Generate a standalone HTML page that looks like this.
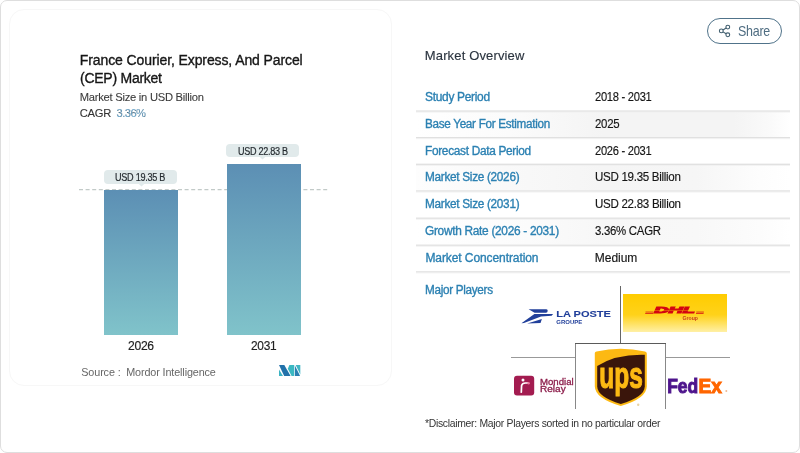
<!DOCTYPE html>
<html><head><meta charset="utf-8">
<style>
*{margin:0;padding:0;box-sizing:border-box}
html,body{width:800px;height:453px;overflow:hidden;background:#fff;font-family:"Liberation Sans",sans-serif;-webkit-font-smoothing:antialiased}
#wrap{position:absolute;left:0;top:0;width:800px;height:453px;will-change:transform}
.abs{position:absolute;white-space:nowrap}
#outer{position:absolute;left:0;top:0;width:800px;height:453px;border:1px solid #dedede;border-radius:7px;background:#fff}
#card{position:absolute;left:9px;top:9px;width:383px;height:377px;border:1px solid #f7f7f7;border-radius:15px;background:#fff}
.bar{position:absolute;background:linear-gradient(#5c8fb4,#80c3ca)}
.tip{position:absolute;background:#e1eaeb;border-radius:4px}
.row{position:absolute;left:416px;width:374px;height:1px;background:#e0e0e0;box-shadow:0 1px 0 #f3f3f3}
</style></head><body>
<div id="wrap">
<div id="outer"></div>
<div id="card"></div>
<div class="abs" style="left:416px;top:112px;width:374px;height:25px;background:linear-gradient(90deg,#fff 0%,#fbfbfb 25%,#f4f4f4 50%,#f4f4f4 85%,#fafafa 95%,#fff 100%)"></div>
<div class="abs" style="left:416px;top:165px;width:374px;height:25px;background:linear-gradient(90deg,#fdfdfd 0%,#f8f8f8 30%,#f5f5f5 50%,#f6f6f6 75%,#fdfdfd 92%,#fff 100%)"></div>
<div class="abs" style="left:416px;top:219px;width:374px;height:25px;background:linear-gradient(90deg,#fff 0%,#fbfbfb 30%,#f7f7f7 50%,#f8f8f8 75%,#fcfcfc 92%,#fff 100%)"></div>
<svg class="abs" style="left:0;top:0" width="800" height="453" viewBox="0 0 800 453"><line x1="79" y1="189.6" x2="328" y2="189.6" stroke="#c2cac8" stroke-width="1.2" stroke-dasharray="4 2.6"/></svg>
<div class="tip" style="left:104px;top:170px;width:73px;height:14px"></div>
<div class="tip" style="left:226px;top:144px;width:73px;height:13px"></div>
<div class="bar" style="left:104px;top:190px;width:74px;height:145px"></div>
<div class="bar" style="left:227px;top:164px;width:74px;height:171px"></div>
<div class="abs" style="left:707px;top:18px;width:75px;height:26px;border:1px solid #50738a;border-radius:13px"></div>
<svg class="abs" style="left:0;top:0" width="800" height="453"><rect x="416" y="110.45" width="374" height="1.3" fill="#dfdfdf"/><rect x="416" y="111.75" width="374" height="0.8" fill="#f0f0f0"/><rect x="416" y="137.05" width="374" height="1.3" fill="#dfdfdf"/><rect x="416" y="138.35" width="374" height="0.8" fill="#f0f0f0"/><rect x="416" y="163.65" width="374" height="1.3" fill="#dfdfdf"/><rect x="416" y="164.95" width="374" height="0.8" fill="#f0f0f0"/><rect x="416" y="190.35" width="374" height="1.3" fill="#dfdfdf"/><rect x="416" y="191.65" width="374" height="0.8" fill="#f0f0f0"/><rect x="416" y="217.55" width="374" height="1.3" fill="#dfdfdf"/><rect x="416" y="218.85" width="374" height="0.8" fill="#f0f0f0"/><rect x="416" y="244.55" width="374" height="1.3" fill="#dfdfdf"/><rect x="416" y="245.85" width="374" height="0.8" fill="#f0f0f0"/><rect x="416" y="271.25" width="374" height="1.3" fill="#dfdfdf"/><rect x="416" y="272.55" width="374" height="0.8" fill="#f0f0f0"/></svg>
<div id="t1" class="abs" style="left:79.80px;top:53.15px;font-size:14px;line-height:14px;color:#161616;letter-spacing:-0.103px;-webkit-text-stroke:0.35px #161616;">France Courier, Express, And Parcel</div>
<div id="t2" class="abs" style="left:80.00px;top:70.75px;font-size:14px;line-height:14px;color:#161616;letter-spacing:-0.255px;-webkit-text-stroke:0.35px #161616;">(CEP) Market</div>
<div id="sub" class="abs" style="left:79.70px;top:92.12px;font-size:11.2px;line-height:11.2px;color:#3c3c3c;letter-spacing:-0.252px;-webkit-text-stroke:0.1px #3c3c3c;">Market Size in USD Billion</div>
<div id="cagr" class="abs" style="left:79.70px;top:107.72px;font-size:11.2px;line-height:11.2px;color:#333;letter-spacing:-0.244px;-webkit-text-stroke:0.1px #333;">CAGR<span style="display:inline-block;width:5.5px"></span><span style="color:#6aa6cc;letter-spacing:-0.55px">3.36%</span></div>
<div id="tip1" class="abs" style="left:115.40px;top:173.13px;font-size:10px;line-height:10px;color:#262c31;letter-spacing:-0.300px;-webkit-text-stroke:0.2px #262c31;transform:scaleX(0.9091);transform-origin:0 0;">USD 19.35 B</div>
<div id="tip2" class="abs" style="left:238.40px;top:146.63px;font-size:10px;line-height:10px;color:#262c31;letter-spacing:-0.300px;-webkit-text-stroke:0.2px #262c31;transform:scaleX(0.9055);transform-origin:0 0;">USD 22.83 B</div>
<div id="y1" class="abs" style="left:128.00px;top:339.67px;font-size:12.2px;line-height:12.2px;color:#222;letter-spacing:-0.300px;-webkit-text-stroke:0.15px #222;transform:scaleX(0.9962);transform-origin:0 0;">2026</div>
<div id="y2" class="abs" style="left:251.00px;top:339.67px;font-size:12.2px;line-height:12.2px;color:#222;letter-spacing:-0.300px;-webkit-text-stroke:0.15px #222;transform:scaleX(0.977);transform-origin:0 0;">2031</div>
<div id="src" class="abs" style="left:81.30px;top:366.86px;font-size:10.8px;line-height:10.8px;color:#666;letter-spacing:-0.125px;">Source :&nbsp; Mordor Intelligence</div>
<div id="share" class="abs" style="left:738.20px;top:24.30px;font-size:14.3px;line-height:14.3px;color:#4f6d82;letter-spacing:-0.300px;transform:scaleX(0.8715);transform-origin:0 0;">Share</div>
<div id="mo" class="abs" style="left:424.80px;top:49.20px;font-size:13px;line-height:13px;color:#2c3540;letter-spacing:0.143px;-webkit-text-stroke:0.15px #2c3540;">Market Overview</div>
<div id="mp" class="abs" style="left:425.00px;top:284.04px;font-size:12px;line-height:12px;color:#2b80b2;letter-spacing:-0.300px;-webkit-text-stroke:0.35px #2b80b2;transform:scaleX(0.9755);transform-origin:0 0;">Major Players</div>
<div id="disc" class="abs" style="left:424.80px;top:418.13px;font-size:10.6px;line-height:10.6px;color:#333;letter-spacing:-0.300px;transform:scaleX(0.98);transform-origin:0 0;">*Disclaimer: Major Players sorted in no particular order</div>
<div id="l0" class="abs" style="left:425.40px;top:90.94px;font-size:12px;line-height:12px;color:#2b80b2;letter-spacing:-0.300px;-webkit-text-stroke:0.35px #2b80b2;transform:scaleX(0.9954);transform-origin:0 0;">Study Period</div>
<div id="v0" class="abs" style="left:594.80px;top:90.94px;font-size:12px;line-height:12px;color:#151515;letter-spacing:-0.300px;-webkit-text-stroke:0.15px #151515;transform:scaleX(0.93);transform-origin:0 0;">2018 - 2031</div>
<div id="l1" class="abs" style="left:425.40px;top:117.74px;font-size:12px;line-height:12px;color:#2b80b2;letter-spacing:-0.300px;-webkit-text-stroke:0.35px #2b80b2;transform:scaleX(0.9742);transform-origin:0 0;">Base Year For Estimation</div>
<div id="v1" class="abs" style="left:594.80px;top:117.74px;font-size:12px;line-height:12px;color:#151515;letter-spacing:-0.300px;-webkit-text-stroke:0.15px #151515;transform:scaleX(0.9522);transform-origin:0 0;">2025</div>
<div id="l2" class="abs" style="left:425.40px;top:144.54px;font-size:12px;line-height:12px;color:#2b80b2;letter-spacing:-0.300px;-webkit-text-stroke:0.35px #2b80b2;transform:scaleX(0.986);transform-origin:0 0;">Forecast Data Period</div>
<div id="v2" class="abs" style="left:594.80px;top:144.54px;font-size:12px;line-height:12px;color:#151515;letter-spacing:-0.300px;-webkit-text-stroke:0.15px #151515;transform:scaleX(0.9283);transform-origin:0 0;">2026 - 2031</div>
<div id="l3" class="abs" style="left:425.40px;top:171.34px;font-size:12px;line-height:12px;color:#2b80b2;letter-spacing:-0.300px;-webkit-text-stroke:0.35px #2b80b2;transform:scaleX(0.9823);transform-origin:0 0;">Market Size (2026)</div>
<div id="v3" class="abs" style="left:594.80px;top:171.34px;font-size:12px;line-height:12px;color:#151515;letter-spacing:-0.300px;-webkit-text-stroke:0.15px #151515;transform:scaleX(0.9626);transform-origin:0 0;">USD 19.35 Billion</div>
<div id="l4" class="abs" style="left:425.40px;top:198.14px;font-size:12px;line-height:12px;color:#2b80b2;letter-spacing:-0.300px;-webkit-text-stroke:0.35px #2b80b2;transform:scaleX(0.9823);transform-origin:0 0;">Market Size (2031)</div>
<div id="v4" class="abs" style="left:594.80px;top:198.14px;font-size:12px;line-height:12px;color:#151515;letter-spacing:-0.300px;-webkit-text-stroke:0.15px #151515;transform:scaleX(0.9637);transform-origin:0 0;">USD 22.83 Billion</div>
<div id="l5" class="abs" style="left:425.40px;top:224.94px;font-size:12px;line-height:12px;color:#2b80b2;letter-spacing:-0.300px;-webkit-text-stroke:0.35px #2b80b2;transform:scaleX(0.9896);transform-origin:0 0;">Growth Rate (2026 - 2031)</div>
<div id="v5" class="abs" style="left:594.80px;top:224.94px;font-size:12px;line-height:12px;color:#151515;letter-spacing:-0.300px;-webkit-text-stroke:0.15px #151515;transform:scaleX(0.9517);transform-origin:0 0;">3.36% CAGR</div>
<div id="l6" class="abs" style="left:425.40px;top:251.74px;font-size:12px;line-height:12px;color:#2b80b2;letter-spacing:-0.084px;-webkit-text-stroke:0.35px #2b80b2;">Market Concentration</div>
<div id="v6" class="abs" style="left:594.80px;top:251.74px;font-size:12px;line-height:12px;color:#151515;letter-spacing:-0.040px;-webkit-text-stroke:0.15px #151515;">Medium</div>
<svg class="abs" style="left:0;top:0" width="800" height="453" viewBox="0 0 800 453">
 <polygon points="138.5,183.8 144.5,183.8 141.5,186.6" fill="#e1eaeb"/>
 <polygon points="259.5,156.8 265.5,156.8 262.5,159.4" fill="#e1eaeb"/>
 <!-- share icon -->
 <g fill="none" stroke="#3f5d6e" stroke-width="1.1">
  <circle cx="727.8" cy="27.1" r="1.9"/>
  <circle cx="721.3" cy="30.9" r="1.9"/>
  <circle cx="727.8" cy="34.8" r="1.9"/>
  <path d="M723 29.9 L726.1 28.1 M723 31.9 L726.1 33.8"/>
 </g>
 <!-- MI logo -->
 <g>
  <polygon points="279,369.5 279,376 283,376" fill="#3bb3c3"/>
  <polygon points="279,365 284.3,365 290.6,376 284.2,376" fill="#2272aa"/>
  <polygon points="289.4,365 294.2,365 294.2,376 291.6,376 287.8,368.8" fill="#3bb8c2"/>
  <polygon points="294.9,365.6 300.1,376 294.9,376" fill="#2a7fb2"/>
  <polygon points="295.7,365 300.3,365 300.3,374.4" fill="#41b6c4"/>
 </g>
 <!-- grid lines -->
 <rect x="620" y="286" width="1" height="57" fill="#666"/>
 <rect x="575" y="343" width="91" height="1" fill="#5a5a5a"/>
 <rect x="575" y="344" width="1" height="65" fill="#888"/>
 <rect x="665" y="344" width="1" height="65" fill="#888"/>
 <rect x="511" y="357" width="64" height="1" fill="#999"/>
 <rect x="666" y="357" width="64" height="1" fill="#999"/>
 <!-- La Poste -->
 <g fill="#213f9a">
  <path d="M528.6,309.3 L546.4,309.3 Q547.8,309.6 547.7,311 Q547.5,312.6 546,312.8 L534.6,312.8 Z"/>
  <polygon points="534.4,314.0 553.1,314.0 551.6,315.7 541,316.6 524,322.9 521.4,323.3"/>
  <polygon points="527.2,323.5 541.9,319.1 540.5,322.9"/>
  <text x="556.2" y="316.9" font-family="Liberation Sans" font-weight="bold" font-size="9.8" textLength="54.8" lengthAdjust="spacingAndGlyphs" stroke="#213f9a" stroke-width="0.1">LA POSTE</text>
  <text x="556.3" y="323.6" font-family="Liberation Sans" font-weight="bold" font-size="4.6" textLength="26" lengthAdjust="spacingAndGlyphs">GROUPE</text>
 </g>
 <!-- DHL -->
 <defs>
  <linearGradient id="dhlg" x1="0" y1="0" x2="0" y2="1">
   <stop offset="0" stop-color="#ffcc00"/>
   <stop offset="0.55" stop-color="#ffd21a"/>
   <stop offset="1" stop-color="#fff0a6"/>
  </linearGradient>
 </defs>
 <rect x="623" y="294" width="104" height="38" fill="url(#dhlg)"/>
 <g fill="#d40511">
  <text x="654.3" y="313.4" font-family="Liberation Sans" font-weight="bold" font-style="italic" font-size="9.6" textLength="40.6" lengthAdjust="spacingAndGlyphs" stroke="#d40511" stroke-width="1.1">DHL</text>
  <rect x="645.5" y="311.6" width="8" height="0.9" opacity="0.8"/>
  <rect x="645.2" y="313" width="8" height="0.9" opacity="0.8"/>
  <rect x="696.3" y="311.6" width="7.6" height="0.9" opacity="0.8"/>
  <rect x="696" y="313" width="7.6" height="0.9" opacity="0.8"/>
  <text x="682.5" y="320.2" font-family="Liberation Sans" font-weight="bold" font-size="4.9" textLength="15.5" lengthAdjust="spacingAndGlyphs" fill="#c8401a">Group</text>
 </g>
 <rect x="650" y="310.1" width="50" height="0.5" fill="#ffcc00" opacity="0.7"/>
 <!-- UPS -->
 <path d="M594.8,353 Q595,352 596.5,351.6 Q620.5,346 645,351.6 Q646.8,352 646.8,353.5 L646.8,386.5 Q646.5,398.5 620.8,406 Q595.2,398.5 594.8,386.5 Z" fill="#fdb913"/>
 <path d="M597.2,366 Q616,354 644.8,354.8 L644.8,386.5 Q644.4,397 620.8,404 Q597.6,397 597.2,386.5 Z" fill="#3a150b"/>
 <text x="599.3" y="388" font-family="Liberation Sans" font-weight="bold" font-size="37" textLength="43.5" lengthAdjust="spacingAndGlyphs" fill="#fdb913" stroke="#fdb913" stroke-width="1.1">ups</text>
 <circle cx="638.2" cy="404.7" r="1.2" fill="#e9d3a3"/>
 <!-- Mondial Relay -->
 <rect x="514" y="375.7" width="20.2" height="19.7" rx="3" fill="#a31c50"/>
 <circle cx="523" cy="379.9" r="1.5" fill="#fff"/>
 <path d="M521.3,392.2 L521.6,385.4 Q522.3,383.2 525.4,383 L527.6,383" stroke="#fff" stroke-width="1.7" fill="none" stroke-linecap="round"/>
 <circle cx="528.6" cy="383.3" r="1.2" fill="#f07aa0"/>
 <g fill="#8d1f4c" font-family="Liberation Sans" font-size="8.8" stroke="#8d1f4c" stroke-width="0.3">
  <text x="540" y="385" textLength="33.6" lengthAdjust="spacingAndGlyphs">Mondial</text>
  <text x="540" y="391.6" textLength="25.7" lengthAdjust="spacingAndGlyphs">Relay</text>
 </g>
 <!-- FedEx -->
 <text x="667.2" y="392.8" font-family="Liberation Sans" font-weight="bold" font-size="20" textLength="31" lengthAdjust="spacingAndGlyphs" fill="#4d148c" stroke="#4d148c" stroke-width="1">Fed</text>
 <text x="698.6" y="392.8" font-family="Liberation Sans" font-weight="bold" font-size="20" textLength="23.4" lengthAdjust="spacingAndGlyphs" fill="#ff6600" stroke="#ff6600" stroke-width="1">Ex</text>
 <circle cx="726.3" cy="391" r="1" fill="#f0b890"/>
</svg>
</div>
</body></html>
